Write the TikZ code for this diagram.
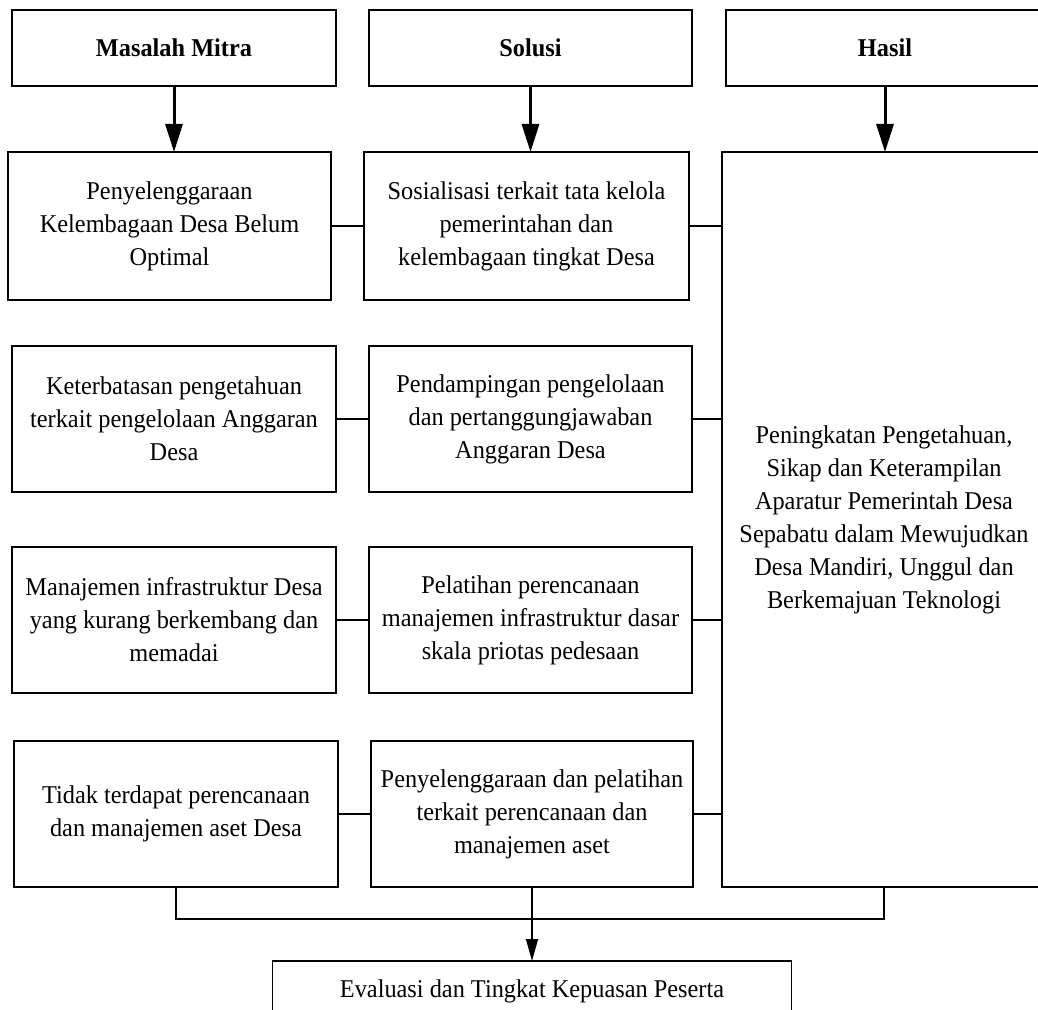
\documentclass[tikz,border=0pt]{standalone}
\usepackage{fontspec}
\setmainfont{Liberation Serif}[FakeStretch=0.95]
\usetikzlibrary{positioning, arrows.meta}

\begin{document}
\begin{tikzpicture}[x=0.5pt, y=-0.5pt, node distance=16.5pt,
  every node/.style={font=\fontsize{12.8}{16.5}\selectfont},
  box/.style={draw, line width=0.65pt, align=center, inner sep=0pt, outer sep=0pt, minimum width=162pt, minimum height=73pt},
  head/.style={box, minimum height=38pt, font=\fontsize{12.8}{16.5}\selectfont\bfseries},
  big arrow/.style={line width=1.5pt, -{Triangle[length=14pt, width=8.5pt]}},
  link/.style={line width=0.65pt}]
\useasboundingbox (0,0) rectangle (1038,1010);
\node (masalah) [head] at (174,48) {Masalah Mitra};
\node (solusi) [head, minimum width=161.5pt] at (530.5,48) {Solusi};
\node (hasil) [head, minimum width=159pt] at (885,48) {Hasil};
\node (m1) [box, below=33pt of masalah, xshift=-2.25pt, minimum width=161.5pt, minimum height=74pt] {Penyelenggaraan\\Kelembagaan Desa Belum\\Optimal};
\node (s1) [box, right=of m1, minimum width=162.5pt, minimum height=74pt] {Sosialisasi terkait tata kelola\\pemerintahan dan\\kelembagaan tingkat Desa};
\node (m2) [box, below=23pt of m1, xshift=2.25pt] {Keterbatasan pengetahuan\\terkait pengelolaan Anggaran\\Desa};
\node (s2) [box, right=of m2, minimum width=161.5pt] {Pendampingan pengelolaan\\dan pertanggungjawaban\\Anggaran Desa};
\node (m3) [box, below=27.5pt of m2] {Manajemen infrastruktur Desa\\yang kurang berkembang dan\\memadai};
\node (s3) [box, right=of m3, minimum width=161.5pt] {Pelatihan perencanaan\\manajemen infrastruktur dasar\\skala priotas pedesaan};
\node (m4) [box, below=24pt of m3, xshift=1pt] {Tidak terdapat perencanaan\\dan manajemen aset Desa};
\node (s4) [box, right=of m4, minimum width=161pt] {Penyelenggaraan dan pelatihan\\terkait perencanaan dan\\manajemen aset};
\node (out) [box, below=33pt of hasil, xshift=-0.5pt, minimum height=367.5pt] {Peningkatan Pengetahuan,\\Sikap dan Keterampilan\\Aparatur Pemerintah Desa\\Sepabatu dalam Mewujudkan\\Desa Mandiri, Unggul dan\\Berkemajuan Teknologi};
\node (eval) [box, below=37pt of s4, minimum width=259.5pt, minimum height=30pt] {Evaluasi dan Tingkat Kepuasan Peserta};
\draw [big arrow] (masalah.south) -- (masalah.south |- m1.north);
\draw [big arrow] (solusi.south) -- (solusi.south |- s1.north);
\draw [big arrow] (hasil.south) -- (hasil.south |- out.north);
\path [link]
     (m1) edge (s1)
     (m2) edge (s2)
     (m3) edge (s3)
     (m4) edge (s4)
     (s1.east) edge (s1.east -| out.west)
     (s2.east) edge (s2.east -| out.west)
     (s3.east) edge (s3.east -| out.west)
     (s4.east) edge (s4.east -| out.west);
\draw [link] (m4.south) -- ++(0,32) -| (out.south);
\draw [link, -{Triangle[length=11pt, width=6pt]}] (s4) -- (eval);
\end{tikzpicture}
\end{document}
